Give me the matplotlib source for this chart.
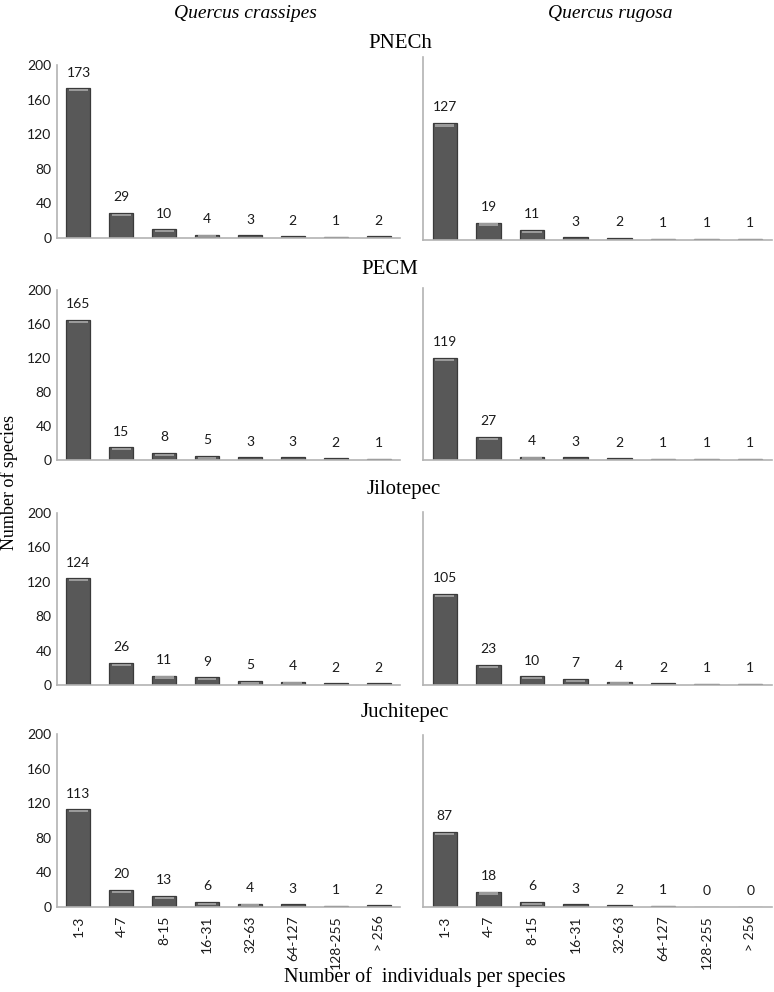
import matplotlib
matplotlib.use('Agg')
import matplotlib.pyplot as plt
import numpy as np

# size classes (number of individuals per species)
categories = ['1-3', '4-7', '8-15', '16-31', '32-63', '64-127', '128-255', '> 256']
sites = ['PNECh', 'PECM', 'Jilotepec', 'Juchitepec']

crassipes_pnech = [173, 29, 10, 4, 3, 2, 1, 2]
crassipes_pecm = [165, 15, 8, 5, 3, 3, 2, 1]
crassipes_jilotepec = [124, 26, 11, 9, 5, 4, 2, 2]
crassipes_juchitepec = [113, 20, 13, 6, 4, 3, 1, 2]

rugosa_pnech = [127, 19, 11, 3, 2, 1, 1, 1]
rugosa_pecm = [119, 27, 4, 3, 2, 1, 1, 1]
rugosa_jilotepec = [105, 23, 10, 7, 4, 2, 1, 1]
rugosa_juchitepec = [87, 18, 6, 3, 2, 1, 0, 0]

yticks = [0, 40, 80, 120, 160, 200]

W, H = 774, 992
fig = plt.figure(figsize=(W / 100, H / 100), dpi=100)

# pixel boxes (left, top, right, bottom) for every panel
left_boxes = [(57, 65, 400, 238), (57, 290, 400, 460), (57, 513, 400, 685), (57, 734, 400, 907)]
right_boxes = [(423, 57, 772, 240), (423, 288, 772, 460), (423, 512, 772, 685), (423, 735, 772, 907)]
right_ymax = [199, 200, 200, 200]

def make_axes(box):
    l, t, r, b = box
    return fig.add_axes([l / W, 1 - b / H, (r - l) / W, (b - t) / H])

num_font = 'Lato'
axis_gray = '#b3b3b3'

def draw_panel(ax, values, ymax, show_yticks, show_xticks):
    x = np.arange(len(values))
    vals = np.array(values, dtype=float)
    ax.bar(x, vals, width=0.56, color='#585858', edgecolor='#3a3a3a', linewidth=0.9, zorder=2)
    # light bevel along the top of each bar
    hl = vals >= 4
    ax.bar(x[hl], np.full(hl.sum(), 2.6), bottom=vals[hl] - 3.6, width=0.44,
           color='#9a9a9a', linewidth=0, zorder=3)
    for xi, v in zip(x, values):
        ax.annotate(str(v), (xi, v), xytext=(0, 7), textcoords='offset points',
                    ha='center', va='bottom', fontsize=10, family=num_font, color='#1a1a1a')
    ax.set_xlim(-0.5, len(values) - 0.5)
    ax.set_ylim(0, ymax)
    for s in ['top', 'right']:
        ax.spines[s].set_visible(False)
    ax.spines['left'].set_color(axis_gray)
    ax.spines['bottom'].set_color(axis_gray)
    ax.spines['left'].set_linewidth(1.2)
    ax.spines['bottom'].set_linewidth(1.2)
    ax.tick_params(length=0)
    if show_yticks:
        ax.set_yticks(yticks)
        ax.set_yticklabels([str(t) for t in yticks], fontsize=10, family=num_font, color='#1a1a1a')
        ax.tick_params(axis='y', pad=4)
    else:
        ax.set_yticks([])
    if show_xticks:
        ax.set_xticks(x)
        ax.set_xticklabels(categories, rotation=90, fontsize=10, family=num_font, color='#1a1a1a')
        ax.tick_params(axis='x', pad=6)
    else:
        ax.set_xticks([])

left_data = [crassipes_pnech, crassipes_pecm, crassipes_jilotepec, crassipes_juchitepec]
right_data = [rugosa_pnech, rugosa_pecm, rugosa_jilotepec, rugosa_juchitepec]

for i in range(4):
    axl = make_axes(left_boxes[i])
    draw_panel(axl, left_data[i], 200, True, i == 3)
    axr = make_axes(right_boxes[i])
    draw_panel(axr, right_data[i], right_ymax[i], False, i == 3)

serif = 'Liberation Serif'
fig.text(245 / W, 1 - 14 / H, 'Quercus crassipes', ha='center', va='center',
         fontsize=14, family=serif, style='italic')
fig.text(610 / W, 1 - 14 / H, 'Quercus rugosa', ha='center', va='center',
         fontsize=14, family=serif, style='italic')

site_pos = [(400, 43), (390, 270), (404, 490), (405, 712)]
for name, (px, py) in zip(sites, site_pos):
    fig.text(px / W, 1 - py / H, name, ha='center', va='center', fontsize=15, family=serif)

fig.text(9 / W, 1 - 482 / H, 'Number of species', rotation=90, ha='center', va='center',
         fontsize=13, family=serif)
fig.text(425 / W, 1 - 977 / H, 'Number of  individuals per species', ha='center', va='center',
         fontsize=14.5, family=serif)

fig.savefig('out.png', dpi=100, facecolor='white')
